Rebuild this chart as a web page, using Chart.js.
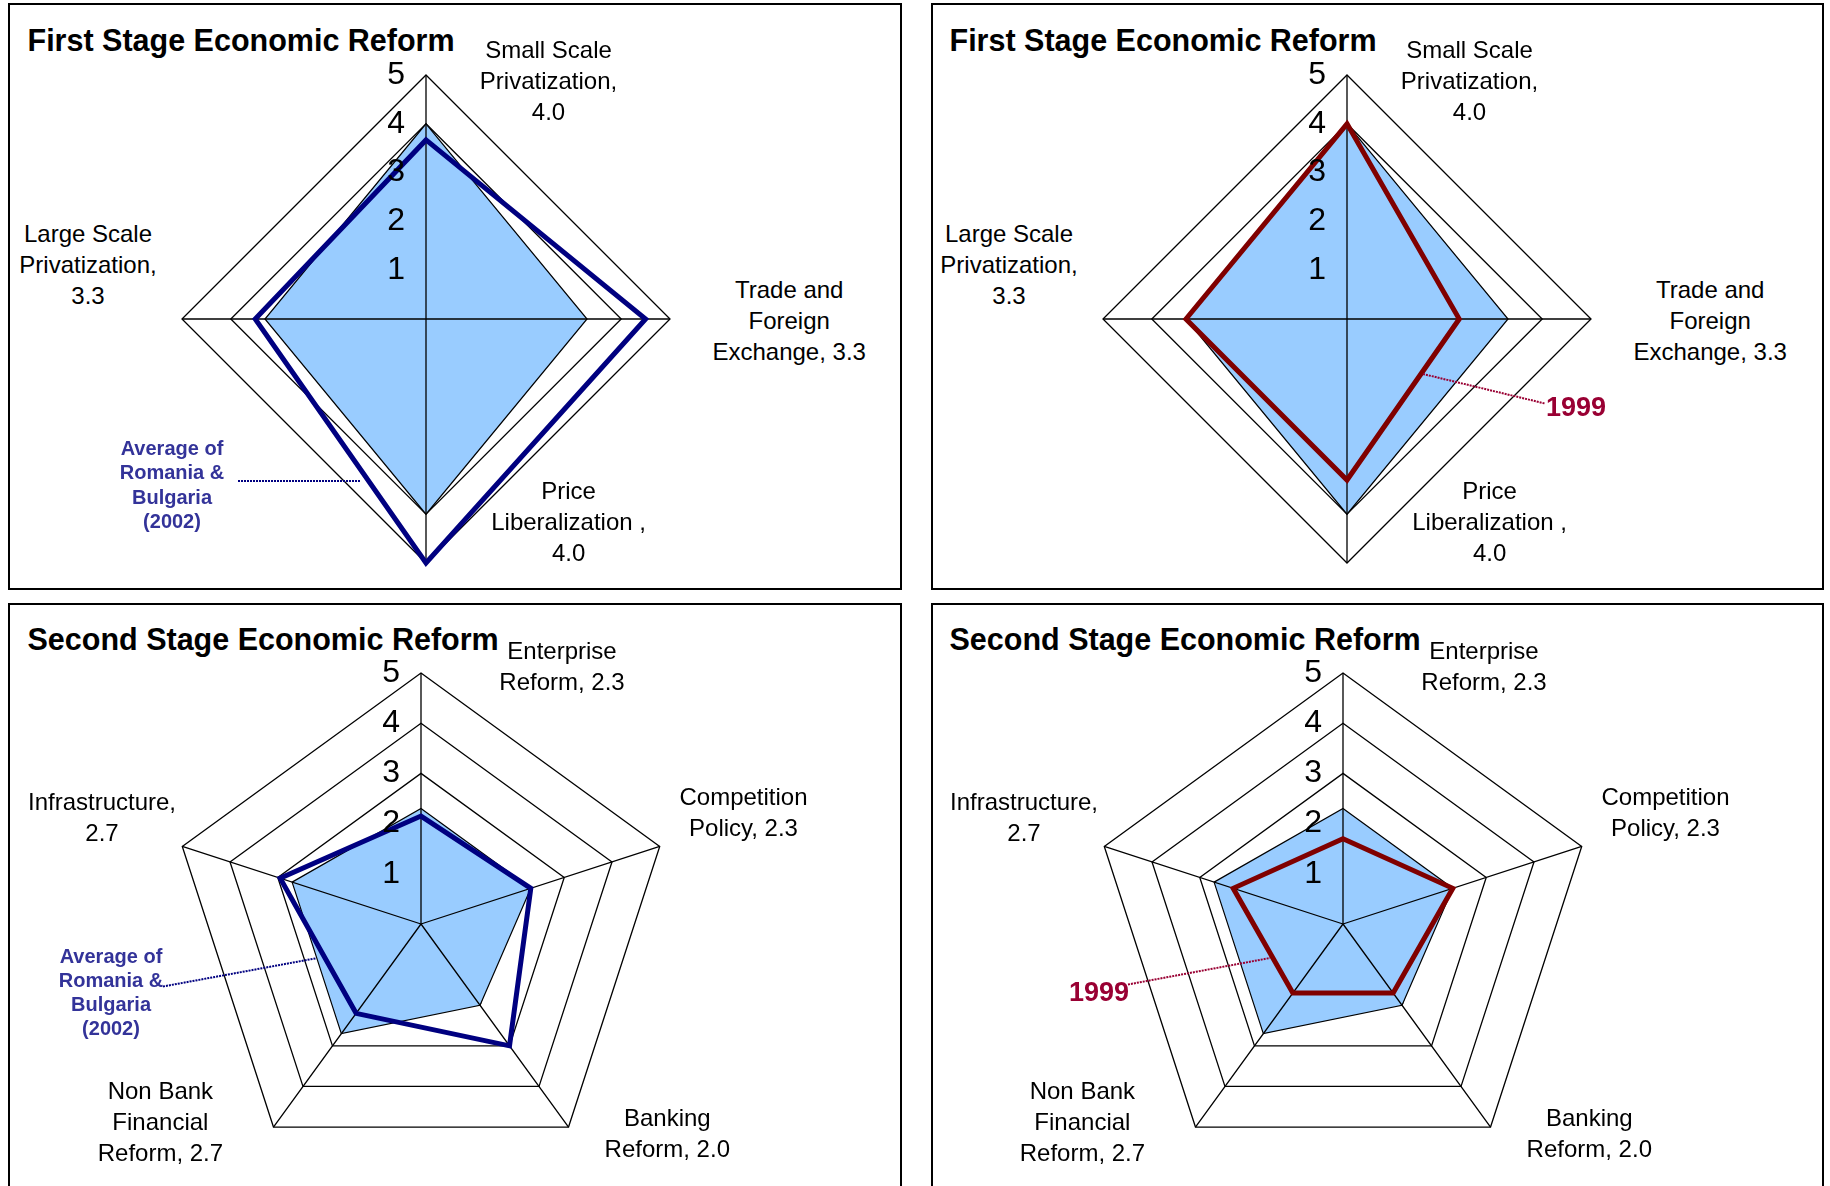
<!DOCTYPE html>
<html>
<head>
<meta charset="utf-8">
<script src="https://cdn.jsdelivr.net/npm/chart.js@4.4.1/dist/chart.umd.min.js"></script>
<style>
	html, body { margin: 0; padding: 0; background: #fff; }
	body { position: relative; width: 1830px; height: 1186px; overflow: hidden; font-family: "Liberation Sans", Arial, sans-serif; color: #000; }
	.panel { position: absolute; border: 2px solid #000; box-sizing: border-box; }
	.chart { position: absolute; }
	.title { position: absolute; font-weight: bold; font-size: 30.5px; line-height: 36px; white-space: nowrap; }
	.lbl { position: absolute; font-size: 24px; line-height: 31px; text-align: center; white-space: pre; transform: translateX(-50%); }
	.avg { position: absolute; font-weight: bold; font-size: 20px; line-height: 24.3px; text-align: center; white-space: pre; transform: translateX(-50%); color: #333399; }
	.year { position: absolute; font-weight: bold; font-size: 27px; line-height: 30px; white-space: nowrap; color: #990033; }
	svg { position: absolute; left: 0; top: 0; }
</style>
</head>
<body>
<script>
'use strict';

// first stage reform indicators (clockwise from top)
const firstStageCategories = [
	['Small Scale', 'Privatization,', '4.0'],
	['Trade and', 'Foreign', 'Exchange, 3.3'],
	['Price', 'Liberalization ,', '4.0'],
	['Large Scale', 'Privatization,', '3.3'],
];
const firstStageLevel = [4.0, 3.3, 4.0, 3.3];
const firstStageAverage2002 = [3.67, 4.5, 5.0, 3.5];
const firstStage1999 = [4.0, 2.3, 3.3, 3.3];

// second stage reform indicators (clockwise from top)
const secondStageCategories = [
	['Enterprise', 'Reform, 2.3'],
	['Competition', 'Policy, 2.3'],
	['Banking', 'Reform, 2.0'],
	['Non Bank', 'Financial', 'Reform, 2.7'],
	['Infrastructure,', '2.7'],
];
const secondStageLevel = [2.3, 2.3, 2.0, 2.7, 2.7];
const secondStageAverage2002 = [2.15, 2.3, 3.0, 2.2, 2.95];
const secondStage1999 = [1.7, 2.3, 1.7, 1.7, 2.3];

const scaleMin = 0,
	scaleMax = 5,
	scaleStep = 1;

const averageNote = ['Average of', 'Romania &', 'Bulgaria', '(2002)'];
const yearNote = '1999';

// layout
const FONT = '"Liberation Sans", Arial, sans-serif';
const PAD = 8;
const TICK_SIZE = 32;
const TICK_SPACE = TICK_SIZE / 2; // radial scale shrinks its radius by half the tick backdrop height
const TICK_PAD = '      \u2009';
const GRID_WIDTH = 1.3;
const FILL_COLOR = '#99CCFF';
const NAVY = '#000080';
const MAROON = '#800000';
const CRIMSON = '#990033';

const firstLabelPos = [[122.5, -284.8], [363.2, -45.3], [142.6, 156.4], [-338, -101.4]];
const secondLabelPos = [[141, -289.4], [322.5, -143], [246.3, 178.2], [-260.6, 150.9], [-319, -138]];

const panels = [
	{left: 8, top: 3, width: 894, height: 587, title: 'First Stage Economic Reform', titleX: 27.5, titleY: 22,
		cx: 426, cy: 319, r: 244, categories: firstStageCategories, labelPos: firstLabelPos,
		level: firstStageLevel, line: firstStageAverage2002, lineColor: NAVY},
	{left: 931, top: 3, width: 893, height: 587, title: 'First Stage Economic Reform', titleX: 949.5, titleY: 21.5,
		cx: 1347, cy: 319, r: 244, categories: firstStageCategories, labelPos: firstLabelPos,
		level: firstStageLevel, line: firstStage1999, lineColor: MAROON},
	{left: 8, top: 603, width: 894, height: 700, title: 'Second Stage Economic Reform', titleX: 27.5, titleY: 620.5,
		cx: 421, cy: 924, r: 251, categories: secondStageCategories, labelPos: secondLabelPos,
		level: secondStageLevel, line: secondStageAverage2002, lineColor: NAVY},
	{left: 931, top: 603, width: 893, height: 700, title: 'Second Stage Economic Reform', titleX: 949.5, titleY: 620.5,
		cx: 1343, cy: 924, r: 251, categories: secondStageCategories, labelPos: secondLabelPos,
		level: secondStageLevel, line: secondStage1999, lineColor: MAROON},
];

// axis spokes go over the filled area but under the series line
const spokesPlugin = {
	id: 'spokes',
	afterDatasetDraw(chart, args) {
		if (args.index !== 1) return;
		let scale = chart.scales.r,
			ctx = chart.ctx;
		ctx.save();
		ctx.strokeStyle = '#000';
		ctx.lineWidth = GRID_WIDTH;
		ctx.beginPath();
		chart.data.labels.forEach((item, i) => {
			let p = scale.getPointPositionForValue(i, scale.max);
			ctx.moveTo(scale.xCenter, scale.yCenter);
			ctx.lineTo(p.x, p.y);
		});
		ctx.stroke();
		ctx.restore();
	},
};

function addBox(cls, text, left, top) {
	let el = document.createElement('div');
	el.className = cls;
	el.textContent = text;
	el.style.left = left + 'px';
	el.style.top = top + 'px';
	document.body.appendChild(el);
	return el;
}

function renderRadar(p) {
	let half = p.r + TICK_SPACE,
		canvas = document.createElement('canvas');
	canvas.className = 'chart';
	canvas.width = 2 * half + PAD;
	canvas.height = 2 * half + PAD;
	canvas.style.left = (p.cx - half) + 'px';
	canvas.style.top = (p.cy - half) + 'px';
	document.body.appendChild(canvas);

	return new Chart(canvas.getContext('2d'), {
		type: 'radar',
		data: {
			labels: p.categories.map(item => item.join(' ')),
			datasets: [{
				data: p.line,
				borderColor: p.lineColor,
				borderWidth: 5,
				backgroundColor: 'rgba(0,0,0,0)',
				fill: false,
				pointRadius: 0,
				pointHoverRadius: 0,
			}, {
				data: p.level,
				borderColor: '#000',
				borderWidth: 1.2,
				backgroundColor: FILL_COLOR,
				fill: true,
				pointRadius: 0,
				pointHoverRadius: 0,
			}],
		},
		options: {
			responsive: false,
			animation: false,
			events: [],
			layout: {padding: {right: PAD, bottom: PAD}},
			plugins: {legend: {display: false}, tooltip: {enabled: false}},
			elements: {line: {tension: 0, borderJoinStyle: 'miter'}},
			scales: {
				r: {
					min: scaleMin,
					max: scaleMax,
					ticks: {
						stepSize: scaleStep,
						z: 1,
						color: '#000',
						showLabelBackdrop: false,
						backdropPadding: 0,
						font: {family: FONT, size: TICK_SIZE},
						callback: value => value + TICK_PAD,
					},
					grid: {color: '#000', lineWidth: GRID_WIDTH},
					angleLines: {display: false},
					pointLabels: {display: false},
				},
			},
		},
		plugins: [spokesPlugin],
	});
}

panels.forEach(p => {
	let panel = document.createElement('div');
	panel.className = 'panel';
	panel.style.left = p.left + 'px';
	panel.style.top = p.top + 'px';
	panel.style.width = p.width + 'px';
	panel.style.height = p.height + 'px';
	document.body.appendChild(panel);
});

panels.forEach(p => {
	renderRadar(p);
	addBox('title', p.title, p.titleX, p.titleY);
	p.categories.forEach((lines, i) => {
		addBox('lbl', lines.join('\n'), p.cx + p.labelPos[i][0], p.cy + p.labelPos[i][1]);
	});
});

addBox('avg', averageNote.join('\n'), 172, 436);
addBox('avg', averageNote.join('\n'), 111, 943.5);
addBox('year', yearNote, 1546, 392);
addBox('year', yearNote, 1069, 976.5);

// dotted leaders from the notes to the series lines
let leaders = [
	[238, 481, 360, 481, NAVY],
	[163, 986.5, 316, 958.3, NAVY],
	[1423, 374, 1545, 403.5, CRIMSON],
	[1128, 984.5, 1270, 958, CRIMSON],
];
let svg = '<svg width="1830" height="1186" xmlns="http://www.w3.org/2000/svg">';
leaders.forEach(([x1, y1, x2, y2, color]) => {
	svg += `<line x1="${x1}" y1="${y1}" x2="${x2}" y2="${y2}" stroke="${color}" stroke-width="2" stroke-dasharray="2 1"/>`;
});
svg += '</svg>';
document.body.insertAdjacentHTML('beforeend', svg);
</script>
</body>
</html>
